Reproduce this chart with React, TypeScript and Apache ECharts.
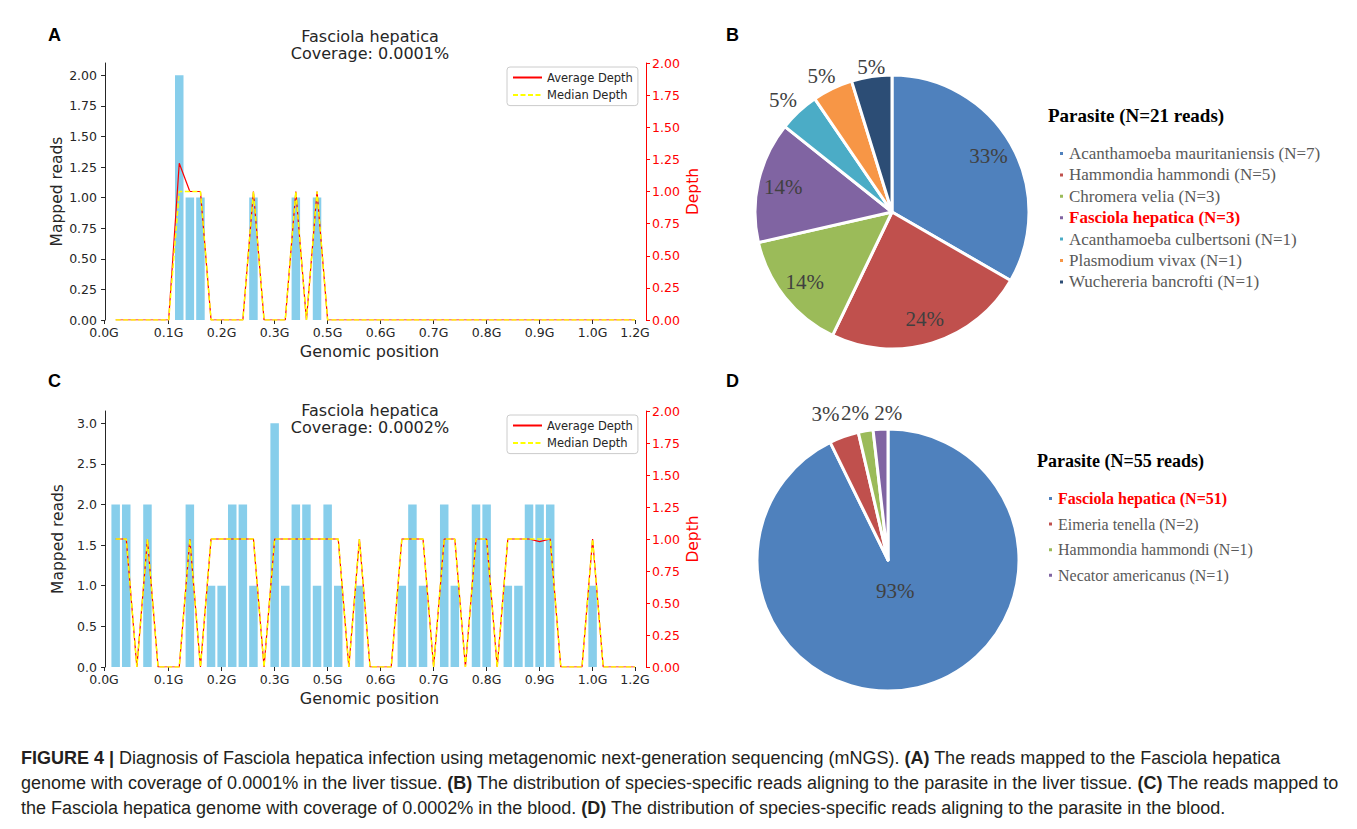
import React, { useEffect, useRef } from 'react';
import * as echarts from 'echarts';

// ---------------- data ----------------
const xTickValues = [-0.1, 6, 11, 16, 21, 26, 31, 36, 41, 46, 50];
const xTickLabels = ['0.0G', '0.1G', '0.2G', '0.3G', '0.5G', '0.6G', '0.7G', '0.8G', '0.9G', '1.0G', '1.2G'];

const depthBins = [1, 2, 3, 4, 5, 6, 7, 8, 9, 10, 11, 12, 13, 14, 15, 16, 17, 18, 19, 20, 21, 22, 23, 24, 25,
  26, 27, 28, 29, 30, 31, 32, 33, 34, 35, 36, 37, 38, 39, 40, 41, 42, 43, 44, 45, 46, 47, 48, 49, 50];

// Panel A (liver tissue)
const aBins = [7, 8, 9, 14, 18, 20];
const aReads = [2, 1, 1, 1, 1, 1];
const aAvgDepth = [0, 0, 0, 0, 0, 0, 1.22, 1, 1, 0, 0, 0, 0, 1, 0, 0, 0, 1, 0, 1, 0, 0, 0, 0, 0,
  0, 0, 0, 0, 0, 0, 0, 0, 0, 0, 0, 0, 0, 0, 0, 0, 0, 0, 0, 0, 0, 0, 0, 0, 0];
const aMedianDepth = [0, 0, 0, 0, 0, 0, 1, 1, 1, 0, 0, 0, 0, 1, 0, 0, 0, 1, 0, 1, 0, 0, 0, 0, 0,
  0, 0, 0, 0, 0, 0, 0, 0, 0, 0, 0, 0, 0, 0, 0, 0, 0, 0, 0, 0, 0, 0, 0, 0, 0];
const aReadTicks = [0, 0.25, 0.5, 0.75, 1, 1.25, 1.5, 1.75, 2];

// Panel C (blood)
const cBins = [1, 2, 4, 8, 10, 11, 12, 13, 14, 16, 17, 18, 19, 20, 21, 22, 24, 28, 29, 30, 32, 33, 35, 36, 38, 39, 40, 41, 42, 46];
const cReads = [2, 2, 2, 2, 1, 1, 2, 2, 1, 3, 1, 2, 2, 1, 2, 1, 1, 1, 2, 1, 2, 1, 2, 2, 1, 1, 2, 2, 2, 1];
const cAvgDepth = [1, 1, 0, 1, 0, 0, 0, 1, 0, 1, 1, 1, 1, 1, 0, 1, 1, 1, 1, 1, 1, 1, 0, 1, 0,
  0, 0, 1, 1, 1, 0, 1, 1, 0, 1, 1, 0, 1, 1, 1, 0.98, 1, 0, 0, 0, 1, 0, 0, 0, 0];
const cMedianDepth = [1, 1, 0, 1, 0, 0, 0, 1, 0, 1, 1, 1, 1, 1, 0, 1, 1, 1, 1, 1, 1, 1, 0, 1, 0,
  0, 0, 1, 1, 1, 0, 1, 1, 0, 1, 1, 0, 1, 1, 1, 1, 1, 0, 0, 0, 1, 0, 0, 0, 0];
const cReadTicks = [0, 0.5, 1, 1.5, 2, 2.5, 3];

const depthTicks = [0, 0.25, 0.5, 0.75, 1, 1.25, 1.5, 1.75, 2];

// Panel B (liver tissue species)
const bSpecies = ['Acanthamoeba mauritaniensis', 'Hammondia hammondi', 'Chromera velia', 'Fasciola hepatica',
  'Acanthamoeba culbertsoni', 'Plasmodium vivax', 'Wuchereria bancrofti'];
const bReads = [7, 5, 3, 3, 1, 1, 1];

// Panel D (blood species)
const dSpecies = ['Fasciola hepatica', 'Eimeria tenella', 'Hammondia hammondi', 'Necator americanus'];
const dReads = [51, 2, 1, 1];

// ---------------- styles ----------------
const bColors = ['#4f81bd', '#c0504d', '#9bbb59', '#8064a2', '#4bacc6', '#f79646', '#2c4d75'];
const dColors = ['#4f81bd', '#c0504d', '#9bbb59', '#8064a2'];
const SANS = 'DejaVu Sans';
const SERIF = 'Liberation Serif';
const AXIS_COLOR = '#262626';
const RED = '#ff0000';
const TICK_FONT = 12.5;

const xLabel = (v: number) => {
  const i = xTickValues.findIndex((t) => Math.abs(t - v) < 1e-6);
  return i >= 0 ? xTickLabels[i] : '';
};

function xAxisFor(gridIndex: number) {
  return {
    type: 'value', gridIndex, min: -0.1, max: 50,
    axisLine: { show: false, onZero: false },
    axisTick: { show: true, customValues: xTickValues, length: 4, lineStyle: { color: AXIS_COLOR } },
    axisLabel: { customValues: xTickValues, formatter: xLabel, fontSize: TICK_FONT, fontFamily: SANS, color: AXIS_COLOR, margin: 6 },
    splitLine: { show: false },
    name: 'Genomic position', nameLocation: 'middle', nameGap: 23,
    nameTextStyle: { fontSize: 16, fontFamily: SANS, color: AXIS_COLOR },
  };
}

function leftAxisFor(gridIndex: number, max: number, ticks: number[], digits: number) {
  return {
    type: 'value', gridIndex, position: 'left', min: 0, max,
    axisLine: { show: true, lineStyle: { color: AXIS_COLOR, width: 1 } },
    axisTick: { show: true, customValues: ticks, length: 4, lineStyle: { color: AXIS_COLOR } },
    axisLabel: { customValues: ticks, formatter: (v: number) => v.toFixed(digits), fontSize: TICK_FONT, fontFamily: SANS, color: AXIS_COLOR, margin: 7 },
    splitLine: { show: false },
    name: 'Mapped reads', nameLocation: 'middle', nameGap: 38,
    nameTextStyle: { fontSize: 15.5, fontFamily: SANS, color: AXIS_COLOR },
  };
}

function rightAxisFor(gridIndex: number) {
  return {
    type: 'value', gridIndex, position: 'right', offset: 11, min: 0, max: 2,
    axisLine: { show: true, lineStyle: { color: RED, width: 1 } },
    axisTick: { show: true, customValues: depthTicks, length: 4, lineStyle: { color: RED } },
    axisLabel: { customValues: depthTicks, formatter: (v: number) => v.toFixed(2), fontSize: TICK_FONT, fontFamily: SANS, color: RED, margin: 6 },
    splitLine: { show: false },
    name: 'Depth', nameLocation: 'middle', nameGap: 39,
    nameTextStyle: { fontSize: 15.5, fontFamily: SANS, color: RED },
  };
}

function coverageSeries(gi: number, bins: number[], reads: number[], avg: number[], med: number[]) {
  return [
    {
      type: 'bar', xAxisIndex: gi, yAxisIndex: gi * 2, barWidth: 8.5, silent: true,
      itemStyle: { color: '#87ceeb' },
      data: bins.map((b, i) => [b, reads[i]]),
    },
    {
      type: 'line', name: 'Average Depth', xAxisIndex: gi, yAxisIndex: gi * 2 + 1, symbol: 'none', silent: true,
      lineStyle: { color: RED, width: 1.2 }, itemStyle: { color: RED },
      data: depthBins.map((b, i) => [b, avg[i]]),
    },
    {
      type: 'line', name: 'Median Depth', xAxisIndex: gi, yAxisIndex: gi * 2 + 1, symbol: 'none', silent: true,
      lineStyle: { color: '#ffff00', width: 1.5, type: [5, 2.5] }, itemStyle: { color: '#ffff00' },
      data: depthBins.map((b, i) => [b, med[i]]),
    },
  ];
}

function lineLegend(top: number) {
  return {
    data: ['Average Depth', 'Median Depth'], orient: 'vertical', left: 507, top,
    itemWidth: 29, itemHeight: 13, itemGap: 4.6, padding: [4, 5, 4, 5],
    borderColor: '#cccccc', borderWidth: 1, borderRadius: 3, backgroundColor: 'rgba(255,255,255,0.8)',
    selectedMode: false,
    itemStyle: { opacity: 0 },
    textStyle: { fontSize: 11.5, fontFamily: SANS, color: AXIS_COLOR, lineHeight: 13 },
  };
}

const nameOf = (s: string, n: number) => `${s} (N=${n})`;
const bNames = bSpecies.map((s, i) => nameOf(s, bReads[i]));
const dNames = dSpecies.map((s, i) => nameOf(s, dReads[i]));

function pieLegend(names: string[], left: number, top: number, fontSize: number, gap: number) {
  const base = { fontFamily: SERIF, fontSize, lineHeight: 19 };
  return {
    data: names, orient: 'vertical', left, top, padding: 0,
    icon: 'rect', itemWidth: 5, itemHeight: 5, itemGap: gap, selectedMode: false,
    formatter: (n: string) => (n.startsWith('Fasciola hepatica') ? `{h|${n}}` : `{n|${n}}`),
    textStyle: {
      ...base, color: '#595959',
      rich: {
        n: { ...base, color: '#595959' },
        h: { ...base, color: '#ff0000', fontWeight: 'bold' },
      },
    },
  };
}

const pctLabel = { fontFamily: SERIF, fontSize: 21, color: '#404040' };

function pieSeries(names: string[], values: number[], colors: string[], center: number[], r: number,
  innerRing: number[], outerRing: number[], nudges: number[][]) {
  const total = values.reduce((a, b) => a + b, 0);
  const isSmall = values.map((v) => v / total < 0.1);
  let k = -1;
  return [
    {
      type: 'pie', center, radius: [0, r], startAngle: 90, clockwise: true, percentPrecision: 0, silent: true,
      avoidLabelOverlap: false, label: { show: false }, labelLine: { show: false },
      itemStyle: { borderColor: '#ffffff', borderWidth: 3 },
      data: names.map((n, i) => ({ name: n, value: values[i], itemStyle: { color: colors[i] } })),
    },
    {
      type: 'pie', center, radius: innerRing, startAngle: 90, clockwise: true, percentPrecision: 0, silent: true,
      avoidLabelOverlap: false, labelLine: { show: false },
      label: { position: 'inside', formatter: '{d}%', ...pctLabel },
      itemStyle: { color: 'rgba(0,0,0,0)', borderWidth: 0 },
      data: names.map((n, i) => ({ name: n, value: values[i], label: { show: !isSmall[i] } })),
    },
    {
      type: 'pie', center, radius: outerRing, startAngle: 90, clockwise: true, percentPrecision: 0, silent: true,
      avoidLabelOverlap: false, labelLine: { show: false },
      label: { position: 'inside', formatter: '{d}%', ...pctLabel },
      itemStyle: { color: 'rgba(0,0,0,0)', borderWidth: 0 },
      data: names.map((n, i) => {
        if (isSmall[i]) k += 1;
        return { name: n, value: values[i], label: isSmall[i] ? { show: true, offset: nudges[k] || [0, 0] } : { show: false } };
      }),
    },
  ];
}

const panelLetter = (text: string, left: number, top: number) => ({
  text, left, top, padding: 0,
  textStyle: { fontFamily: 'Liberation Sans', fontWeight: 'bold', fontSize: 18, color: '#000' },
});

const capFont = 'Liberation Sans';
const capSize = 18;
const capRich = {
  b: { fontFamily: capFont, fontSize: capSize, fontWeight: 'bold', fill: '#231f20' },
  n: { fontFamily: capFont, fontSize: capSize, fill: '#231f20' },
};
const captionLines = [
  '{b|FIGURE 4 |} Diagnosis of Fasciola hepatica infection using metagenomic next-generation sequencing (mNGS). {b|(A)} The reads mapped to the Fasciola hepatica',
  'genome with coverage of 0.0001% in the liver tissue. {b|(B)} The distribution of species-specific reads aligning to the parasite in the liver tissue. {b|(C)} The reads mapped to',
  'the Fasciola hepatica genome with coverage of 0.0002% in the blood. {b|(D)} The distribution of species-specific reads aligning to the parasite in the blood.',
];

const option: any = {
  animation: false,
  backgroundColor: '#ffffff',
  title: [
    panelLetter('A', 48, 26), panelLetter('B', 726, 26), panelLetter('C', 48, 372), panelLetter('D', 726, 372),
    {
      text: 'Fasciola hepatica\nCoverage: 0.0001%', left: 370, top: 27.5, textAlign: 'center', padding: 0,
      textStyle: { fontFamily: SANS, fontWeight: 'normal', fontSize: 16, lineHeight: 17, color: AXIS_COLOR },
    },
    {
      text: 'Fasciola hepatica\nCoverage: 0.0002%', left: 370, top: 401.5, textAlign: 'center', padding: 0,
      textStyle: { fontFamily: SANS, fontWeight: 'normal', fontSize: 16, lineHeight: 17, color: AXIS_COLOR },
    },
    {
      text: 'Parasite (N=21 reads)', left: 1048, top: 104, padding: 0,
      textStyle: { fontFamily: SERIF, fontWeight: 'bold', fontSize: 19, lineHeight: 22, color: '#000' },
    },
    {
      text: 'Parasite (N=55 reads)', left: 1037, top: 450, padding: 0,
      textStyle: { fontFamily: SERIF, fontWeight: 'bold', fontSize: 18, lineHeight: 22, color: '#000' },
    },
  ],
  grid: [
    { left: 104, top: 63, width: 531, height: 257 },
    { left: 104, top: 411, width: 531, height: 256 },
  ],
  xAxis: [xAxisFor(0), xAxisFor(1)],
  yAxis: [
    leftAxisFor(0, 2.1, aReadTicks, 2), rightAxisFor(0),
    leftAxisFor(1, 3.15, cReadTicks, 1), rightAxisFor(1),
  ],
  legend: [
    lineLegend(67), lineLegend(415),
    pieLegend(bNames, 1058, 144, 17, 2.4),
    pieLegend(dNames, 1047, 489, 16, 6.6),
  ],
  series: [
    ...coverageSeries(0, aBins, aReads, aAvgDepth, aMedianDepth),
    ...coverageSeries(1, cBins, cReads, cAvgDepth, cMedianDepth),
    ...pieSeries(bNames, bReads, bColors, [892, 212], 137, [80, 137], [137, 163], [[-5, 0], [-4, 2], [2, 6]]),
    ...pieSeries(dNames, dReads, dColors, [888, 560], 131, [0, 58], [137, 163], [[-11, -2], [-7, 4], [9, 6]]),
  ],
  graphic: captionLines.map((t, i) => ({
    type: 'text', x: 21, y: 758 + i * 25, silent: true,
    style: {
      text: t, fontFamily: capFont, fontSize: capSize, fill: '#231f20', verticalAlign: 'middle',
      rich: capRich,
    },
  })),
};

export default function App() {
  const ref = useRef<HTMLDivElement>(null);
  useEffect(() => {
    const chart = echarts.init(ref.current as HTMLDivElement, null, { renderer: 'svg' });
    chart.setOption(option);
    return () => chart.dispose();
  }, []);
  return (
    <div
      ref={ref}
      style={{ position: 'absolute', left: 0, top: 0, width: 1357, height: 829, background: '#ffffff' }}
    />
  );
}
